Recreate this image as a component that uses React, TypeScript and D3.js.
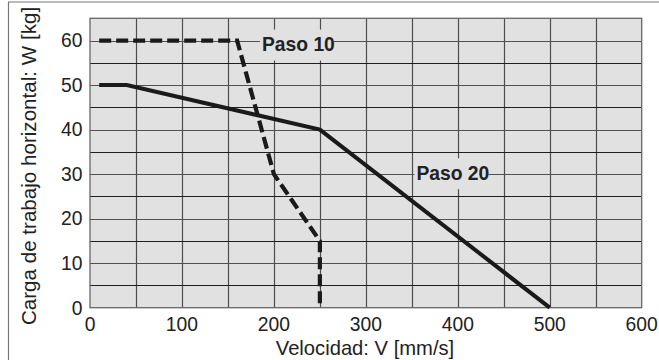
import React from "react";
import * as d3 from "d3";

const xTicks = [0, 100, 200, 300, 400, 500, 600];
const yTicks = [0, 10, 20, 30, 40, 50, 60];
const xGrid = [50, 100, 150, 200, 250, 300, 350, 400, 450, 500, 550];
const yGrid = [5, 10, 15, 20, 25, 30, 35, 40, 45, 50, 55, 60];

const paso20V = [10, 40, 250, 500];
const paso20W = [50, 50, 40, 0];
const paso10V = [10, 160, 200, 250, 250];
const paso10W = [60, 60, 30, 15, 0];

const labelText = ["Paso 10", "Paso 20"];
const labelV = [187, 355];
const labelW = [59.1, 30.2];

const W = 659;
const H = 360;
const FONT = "'Liberation Sans', Arial, Helvetica, sans-serif";
const BG = "#e1e1e2";

export default function App() {
  const x = d3.scaleLinear().domain([0, 600]).range([90, 641.7]);
  const y = d3.scaleLinear().domain([0, 65]).range([307.7, 18.3]);

  const line = d3
    .line<[number, number]>()
    .x((d) => x(d[0]))
    .y((d) => y(d[1]));

  const p20 = paso20V.map((v, i) => [v, paso20W[i]] as [number, number]);
  const p10 = paso10V.map((v, i) => [v, paso10W[i]] as [number, number]);

  const [x0, x1] = x.range();
  const [y0, y1] = y.range();

  return (
    <svg
      width={W}
      height={H}
      viewBox={`0 0 ${W} ${H}`}
      style={{ position: "absolute", left: 0, top: 0, background: "#fff" }}
    >
      {/* outer frame (left and top) */}
      <line x1={8.5} x2={8.5} y1={2} y2={H} stroke="#777" strokeWidth={1.2} />
      <line x1={8} x2={W} y1={2} y2={2} stroke="#777" strokeWidth={1.2} />

      {/* plot background */}
      <rect x={x0} y={y1} width={x1 - x0} height={y0 - y1} fill={BG} />

      {/* grid */}
      {xGrid.map((v) => (
        <line
          key={"gx" + v}
          x1={Math.round(x(v)) + 0.5}
          x2={Math.round(x(v)) + 0.5}
          y1={y1}
          y2={y0}
          stroke="#4d4d4d"
          strokeWidth={1.2}
        />
      ))}
      {yGrid.map((v) => (
        <line
          key={"gy" + v}
          x1={x0}
          x2={x1}
          y1={Math.round(y(v)) + 0.5}
          y2={Math.round(y(v)) + 0.5}
          stroke={v % 10 === 0 ? "#505050" : "#1e1e1e"}
          strokeWidth={1.2}
        />
      ))}
      <rect
        x={x0}
        y={y1}
        width={x1 - x0}
        height={y0 - y1}
        fill="none"
        stroke="#666"
        strokeWidth={1.3}
      />

      {/* label boxes and texts */}
      {labelText.map((t, i) => {
        const lx = x(labelV[i]);
        const ly = y(labelW[i]);
        return (
          <g key={t}>
            <rect x={lx - 2} y={ly - 15} width={74} height={31} fill={BG} />
            <text
              x={lx}
              y={ly + 6.8}
              fontFamily={FONT}
              fontWeight="bold"
              fontSize={19.3}
              fill="#222"
            >
              {t}
            </text>
          </g>
        );
      })}

      {/* data lines */}
      <path
        d={line(p10) || ""}
        fill="none"
        stroke="#1a1a1a"
        strokeWidth={4.2}
        strokeDasharray="12 5"
      />
      <path
        d={line(p20) || ""}
        fill="none"
        stroke="#1a1a1a"
        strokeWidth={4}
        strokeLinejoin="miter"
      />

      {/* x tick labels */}
      {xTicks.map((v) => (
        <text
          key={"xt" + v}
          x={x(v)}
          y={331}
          textAnchor="middle"
          fontFamily={FONT}
          fontSize={19.3}
          fill="#222"
        >
          {v}
        </text>
      ))}
      {/* y tick labels */}
      {yTicks.map((v) => (
        <text
          key={"yt" + v}
          x={82.5}
          y={y(v) + 6.8}
          textAnchor="end"
          fontFamily={FONT}
          fontSize={19.3}
          fill="#222"
        >
          {v}
        </text>
      ))}

      {/* axis titles */}
      <text
        x={365}
        y={355}
        textAnchor="middle"
        fontFamily={FONT}
        fontSize={20.2}
        fill="#222"
      >
        Velocidad: V [mm/s]
      </text>
      <text
        transform={`translate(35.5,166) rotate(-90)`}
        textAnchor="middle"
        fontFamily={FONT}
        fontSize={20.6}
        fill="#222"
      >
        Carga de trabajo horizontal: W [kg]
      </text>
    </svg>
  );
}
